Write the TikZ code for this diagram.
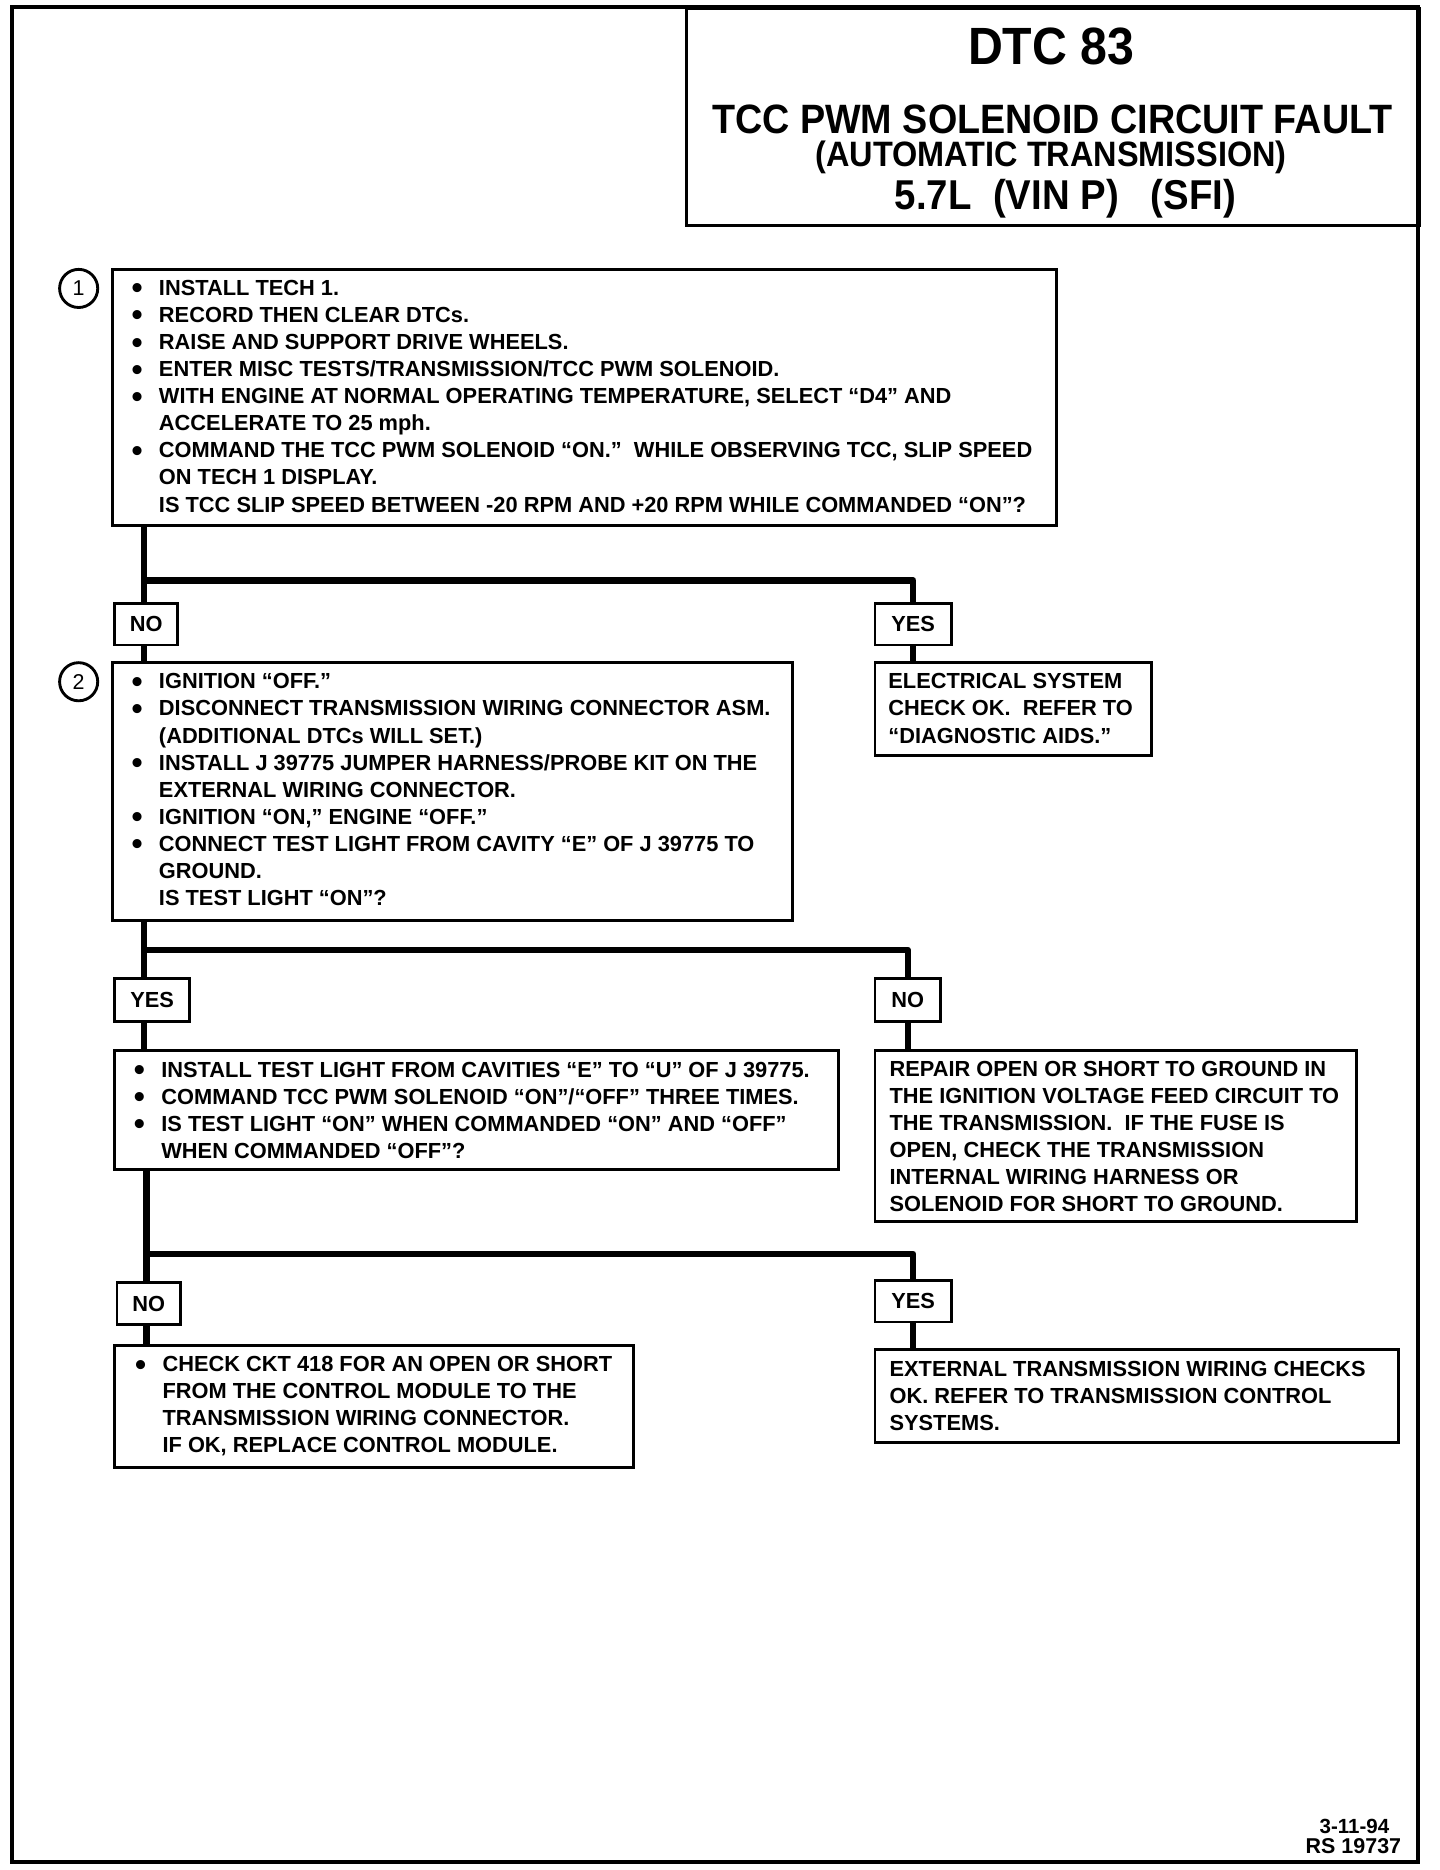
\documentclass[tikz,border=0pt]{standalone}
\usepackage{fontspec}
\setmainfont{Liberation Sans}
\newfontfamily\titlefont{Liberation Sans}[FakeStretch=0.92]
\usetikzlibrary{calc}
\newcommand\bul{\makebox[11.5pt][l]{\raisebox{-1.4pt}{\scalebox{1.45}{\textbullet}}}}
\newcommand\ind{\hspace*{11.5pt}}
\begin{document}
\begin{tikzpicture}[x=0.5pt,y=-0.5pt,
  box/.style={draw,line width=1.2pt,rectangle,inner sep=0pt,anchor=north west},
  lbl/.style={draw,line width=1.2pt,rectangle,inner sep=0pt,anchor=north west,font=\bfseries\fontsize{9.15}{11}\selectfont},
  txt/.style={anchor=base west,inner sep=0pt,font=\bfseries\fontsize{9.15}{11.35}\selectfont},
  conn/.style={line width=2.6pt,line join=round},
  num/.style={draw,circle,line width=1.2pt,minimum size=16pt,inner sep=0pt,font=\fontsize{9}{10}\selectfont},
  ttl/.style={anchor=base,inner sep=0pt},
]
\useasboundingbox (0,0) rectangle (1208,1569);
% outer frame and title block
\draw[line width=1.6pt] (10,6) rectangle (1190,1562);
\node[box,minimum width=307.5pt,minimum height=91pt] (title) at (575,6) {};
\node[ttl,font=\titlefont\bfseries\fontsize{22}{24}\selectfont] (tl1) at (882,54) {DTC 83};
\node[ttl,font=\titlefont\bfseries\fontsize{17.2}{19}\selectfont] (tl2) at (883,112) {TCC PWM SOLENOID CIRCUIT FAULT};
\node[ttl,font=\titlefont\bfseries\fontsize{14.8}{16}\selectfont] (tl3) at (882,140) {(AUTOMATIC TRANSMISSION)};
\node[ttl,font=\titlefont\bfseries\fontsize{17.5}{19}\selectfont] (tl4) at (894,176) {5.7L\ \ (VIN P)\ \ \ (SFI)};

% step 1
\node[num] (c1) at (66,242) {1};
\node[box,minimum width=396pt,minimum height=107.5pt] (b1) at (93,225) {};
\node[txt] (t1) at (110,248) {\parbox[t]{420pt}{\raggedright
\bul INSTALL TECH 1.\\
\bul RECORD THEN CLEAR DTCs.\\
\bul RAISE AND SUPPORT DRIVE WHEELS.\\
\bul ENTER MISC TESTS/TRANSMISSION/TCC PWM SOLENOID.\\
\bul WITH ENGINE AT NORMAL OPERATING TEMPERATURE, SELECT “D4” AND\\
\ind ACCELERATE TO 25 mph.\\
\bul COMMAND THE TCC PWM SOLENOID “ON.”\ \ WHILE OBSERVING TCC, SLIP SPEED\\
\ind ON TECH 1 DISPLAY.\\
\ind IS TCC SLIP SPEED BETWEEN -20 RPM AND +20 RPM WHILE COMMANDED “ON”?}};

\node[lbl,minimum width=26.5pt,minimum height=17.5pt] (no1) at (95,505) {NO};
\node[lbl,minimum width=32pt,minimum height=17.5pt] (yes1) at (733,505) {YES};
\coordinate (j1) at (121,487);

% step 2
\node[num] (c2) at (66,572) {2};
\node[box,minimum width=285.5pt,minimum height=108pt] (b2) at (93,555) {};
\node[txt] (t2) at (110,578) {\parbox[t]{420pt}{\raggedright
\bul IGNITION “OFF.”\\
\bul DISCONNECT TRANSMISSION WIRING CONNECTOR ASM.\\
\ind (ADDITIONAL DTCs WILL SET.)\\
\bul INSTALL J 39775 JUMPER HARNESS/PROBE KIT ON THE\\
\ind EXTERNAL WIRING CONNECTOR.\\
\bul IGNITION “ON,” ENGINE “OFF.”\\
\bul CONNECT TEST LIGHT FROM CAVITY “E” OF J 39775 TO\\
\ind GROUND.\\
\ind IS TEST LIGHT “ON”?}};

\node[box,minimum width=116pt,minimum height=39pt] (elec) at (733,555) {};
\node[txt] (te) at (745,578) {\parbox[t]{200pt}{\raggedright
ELECTRICAL SYSTEM\\
CHECK OK.\ \ REFER TO\\
“DIAGNOSTIC AIDS.”}};

\node[lbl,minimum width=31.5pt,minimum height=18pt] (yes2) at (95,820) {YES};
\node[lbl,minimum width=27.5pt,minimum height=18pt] (no2) at (733,820) {NO};
\coordinate (j2) at (121,797);

% step 3
\node[box,minimum width=303.5pt,minimum height=50pt] (b3) at (95,880) {};
\node[txt] (t3) at (112,904) {\parbox[t]{420pt}{\raggedright
\bul INSTALL TEST LIGHT FROM CAVITIES “E” TO “U” OF J 39775.\\
\bul COMMAND TCC PWM SOLENOID “ON”/“OFF” THREE TIMES.\\
\bul IS TEST LIGHT “ON” WHEN COMMANDED “ON” AND “OFF”\\
\ind WHEN COMMANDED “OFF”?}};

\node[box,minimum width=202pt,minimum height=72pt] (rep) at (733,880) {};
\node[txt] (tr) at (746,903) {\parbox[t]{220pt}{\raggedright
REPAIR OPEN OR SHORT TO GROUND IN\\
THE IGNITION VOLTAGE FEED CIRCUIT TO\\
THE TRANSMISSION.\ \ IF THE FUSE IS\\
OPEN, CHECK THE TRANSMISSION\\
INTERNAL WIRING HARNESS OR\\
SOLENOID FOR SHORT TO GROUND.}};

\node[lbl,minimum width=26.5pt,minimum height=17.5pt] (no3) at (97,1075) {NO};
\node[lbl,minimum width=32pt,minimum height=17.5pt] (yes3) at (733,1073) {YES};
\coordinate (j3) at (123,1052);

% step 4
\node[box,minimum width=217.5pt,minimum height=51pt] (b4) at (95,1128) {};
\node[txt] (t4) at (113,1151) {\parbox[t]{300pt}{\raggedright
\bul CHECK CKT 418 FOR AN OPEN OR SHORT\\
\ind FROM THE CONTROL MODULE TO THE\\
\ind TRANSMISSION WIRING CONNECTOR.\\
\ind IF OK, REPLACE CONTROL MODULE.}};

\node[box,minimum width=219.5pt,minimum height=39pt] (ext) at (733,1131) {};
\node[txt] (tx) at (746,1155) {\parbox[t]{240pt}{\raggedright
EXTERNAL TRANSMISSION WIRING CHECKS\\
OK. REFER TO TRANSMISSION CONTROL\\
SYSTEMS.}};

% connectors
\draw[conn] (b1.south -| j1) -- (no1.north -| j1);
\draw[conn] (j1) -| (yes1.north);
\draw[conn] (no1.south -| j1) -- (b2.north -| j1);
\draw[conn] (yes1.south) -- (elec.north -| yes1.south);

\draw[conn] (b2.south -| j2) -- (yes2.north -| j2);
\draw[conn] (j2) -| (no2.north);
\draw[conn] (yes2.south -| j2) -- (b3.north -| j2);
\draw[conn] (no2.south) -- (rep.north -| no2.south);

\draw[conn] (b3.south -| j3) -- (no3.north -| j3);
\draw[conn] (j3) -| (yes3.north);
\draw[conn] (no3.south -| j3) -- (b4.north -| j3);
\draw[conn] (yes3.south) -- (ext.north -| yes3.south);

% footer
\node[anchor=base east,inner sep=0pt,font=\bfseries\fontsize{8.6}{10}\selectfont] (d1) at (1166,1538) {3-11-94};
\node[anchor=base east,inner sep=0pt,font=\bfseries\fontsize{9}{10}\selectfont] (d2) at (1176,1555) {RS 19737};
\end{tikzpicture}
\end{document}
